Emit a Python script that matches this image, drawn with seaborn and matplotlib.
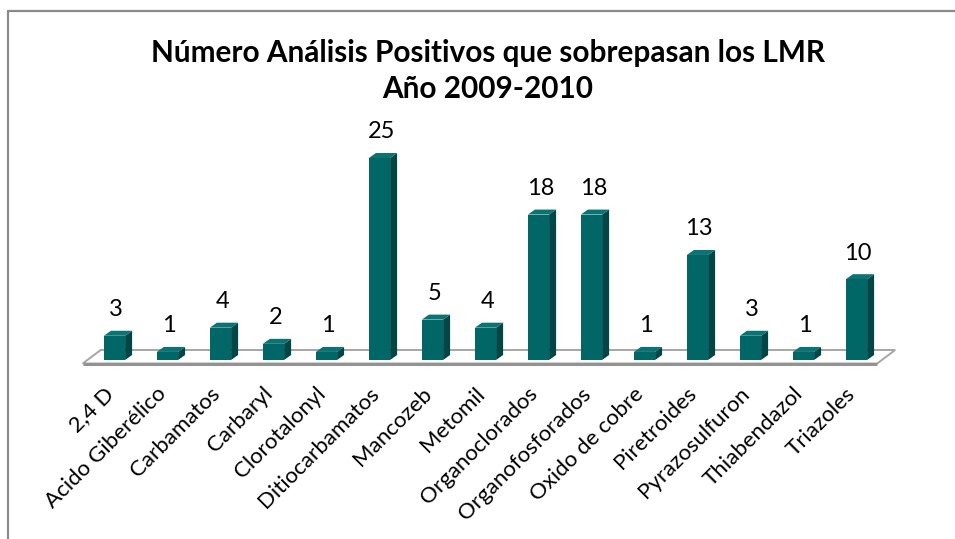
import matplotlib
matplotlib.use("Agg")
import matplotlib.pyplot as plt
import matplotlib.transforms as mtransforms
import seaborn as sns
import pandas as pd
from matplotlib.patches import Polygon
from matplotlib.lines import Line2D

categories = ["2,4 D", "Acido Giberélico", "Carbamatos", "Carbaryl", "Clorotalonyl",
              "Ditiocarbamatos", "Mancozeb", "Metomil", "Organoclorados",
              "Organofosforados", "Oxido de cobre", "Piretroides", "Pyrazosulfuron",
              "Thiabendazol", "Triazoles"]
values = [3, 1, 4, 2, 1, 25, 5, 4, 18, 18, 1, 13, 3, 1, 10]
title_lines = ["Número Análisis Positivos que sobrepasan los LMR", "Año 2009-2010"]

sns.set_theme(style="white")
plt.rcParams['font.family'] = ['Lato', 'DejaVu Sans']

W, H = 955, 539
fig = plt.figure(figsize=(W / 100, H / 100), dpi=100)
fig.patch.set_facecolor("white")

# axes placement in pixels
base_px = 360          # y of bar base from top
step_px = 53.0         # spacing between bars
first_px = 114.5       # centre of first bar
unit_px = 8.08         # pixels per unit
ax = fig.add_axes([0, (H - base_px) / H, 1, base_px / H])

front = "#006666"
side = "#004646"
top = "#0b7373"

df = pd.DataFrame({"cat": categories, "val": values})
sns.barplot(data=df, x="cat", y="val", ax=ax, color=front, width=0.4,
            saturation=1, edgecolor="none", zorder=3)
ax.set_xlim(-first_px / step_px, (W - first_px) / step_px)
ax.set_ylim(0, base_px / unit_px)

dx = 7 / step_px
dy = 5 / unit_px

# floor
n = len(categories)
fl_front_y = -3.5 / unit_px
fl_back_y = 10 / unit_px
fl_l = -0.6
fl_r = n - 1 + 0.39
floor = Polygon([(fl_l, fl_front_y), (fl_r, fl_front_y), (fl_r + 18 / step_px, fl_back_y),
                 (fl_l + 18 / step_px, fl_back_y)], closed=True, facecolor="white",
                edgecolor="#a6a6a6", linewidth=1.4, clip_on=False, zorder=1)
ax.add_patch(floor)
ax.plot([fl_l, fl_r], [fl_front_y, fl_front_y], color="#939393", lw=2.2,
        clip_on=False, zorder=1.5, solid_capstyle="butt")

for p, v in zip(ax.patches, values):
    x0 = p.get_x()
    w = p.get_width()
    h = p.get_height()
    sp = Polygon([(x0 + w, 0), (x0 + w + dx, dy), (x0 + w + dx, h + dy), (x0 + w, h)],
                 closed=True, facecolor=side, edgecolor="none", zorder=2.5, clip_on=False)
    tp = Polygon([(x0, h), (x0 + dx, h + dy), (x0 + w + dx, h + dy), (x0 + w, h)],
                 closed=True, facecolor=top, edgecolor="none", zorder=2.5, clip_on=False)
    ax.add_patch(sp)
    ax.add_patch(tp)
    ax.text(x0 + w / 2 + dx / 4, h + dy + 1.3, str(v), ha="center", va="bottom",
            fontsize=17, color="black", zorder=5)

ax.set_xticks(range(n))
ax.set_xticklabels(categories, rotation=45, ha="right", rotation_mode="anchor",
                   fontsize=16, color="black")
ax.tick_params(axis="x", length=0, pad=17)
shift = mtransforms.ScaledTranslation(-8 / 72, 0, fig.dpi_scale_trans)
for lab in ax.get_xticklabels():
    lab.set_transform(lab.get_transform() + shift)
ax.set_yticks([])
ax.set_xlabel("")
ax.set_ylabel("")
for s in ax.spines.values():
    s.set_visible(False)
ax.patch.set_alpha(0)

fig.text(0.511, 1 - 53 / H, title_lines[0], ha="center", va="center",
         fontsize=21.4, fontweight="bold", color="black")
fig.text(0.511, 1 - 89 / H, title_lines[1], ha="center", va="center",
         fontsize=21.4, fontweight="bold", color="black")

# chart-area border (top and left visible)
fig.add_artist(Line2D([7.5 / W, 1], [1 - 10.5 / H, 1 - 10.5 / H], transform=fig.transFigure,
                      color="#8a8a8a", lw=1.6))
fig.add_artist(Line2D([7.5 / W, 7.5 / W], [0, 1 - 10.5 / H], transform=fig.transFigure,
                      color="#8a8a8a", lw=1.6))

fig.savefig("out.png", dpi=100, facecolor="white")
